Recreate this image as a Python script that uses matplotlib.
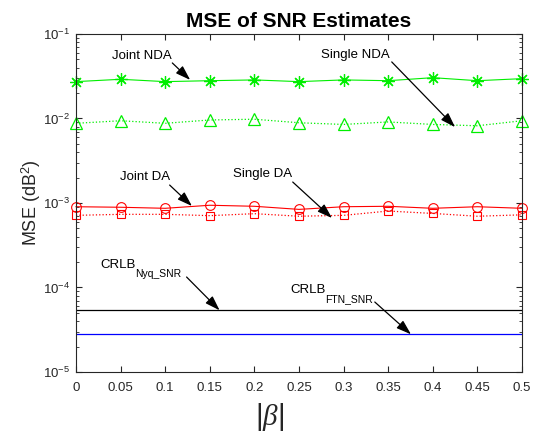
import numpy as np
import matplotlib
matplotlib.use('Agg')
import matplotlib.pyplot as plt

plt.rcParams['font.family'] = ['Liberation Sans', 'DejaVu Sans']
plt.rcParams['mathtext.fontset'] = 'custom'
plt.rcParams['mathtext.rm'] = 'Liberation Sans'
plt.rcParams['mathtext.sf'] = 'Liberation Sans'
plt.rcParams['mathtext.it'] = 'Liberation Serif:italic'

# |beta| values
beta = [0, 0.05, 0.1, 0.15, 0.2, 0.25, 0.3, 0.35, 0.4, 0.45, 0.5]

# MSE values
joint_nda = [0.0273, 0.0291, 0.0273, 0.0280, 0.0286, 0.0273, 0.0286, 0.0280, 0.0304, 0.0280, 0.0296]
single_nda = [0.00877, 0.0094, 0.00877, 0.0096, 0.0098, 0.0089, 0.0085, 0.0091, 0.0085, 0.0082, 0.0094]
joint_da = [0.000903, 0.00089, 0.000865, 0.00094, 0.000914, 0.00084, 0.000903, 0.000914, 0.000865, 0.000903, 0.000865]
single_da = [0.000714, 0.000734, 0.000734, 0.000708, 0.000747, 0.000697, 0.000714, 0.000803, 0.000752, 0.000697, 0.000724]
crlb_nyq = 5.37e-5
crlb_ftn = 2.79e-5

fig = plt.figure(figsize=(5.37, 4.34), dpi=100)
ax = fig.add_axes([0.1415, 0.1429, 0.8305, 0.7788])

green = '#00ee00'
asterisk = (8, 2, 0)
ax.semilogy(beta, joint_nda, '-', marker=asterisk, color=green, lw=0.8, ms=9, mew=0.9, clip_on=False)
ax.semilogy(beta, single_nda, ':^', color=green, lw=0.9, ms=8, mfc='none', mew=0.9, clip_on=False)
ax.semilogy(beta, joint_da, '-o', color='red', lw=0.8, ms=7, mfc='none', mew=0.8, clip_on=False)
ax.semilogy(beta, single_da, ':s', color='red', lw=0.9, ms=6, mfc='none', mew=0.8, clip_on=False)
ax.semilogy(beta, [crlb_nyq] * len(beta), '-', color='black', lw=0.9)
ax.semilogy(beta, [crlb_ftn] * len(beta), '-', color='blue', lw=0.9)

ax.set_xlim(0, 0.5)
ax.set_ylim(1e-5, 1e-1)
ax.set_xticks(beta)
ax.set_xticklabels(['0', '0.05', '0.1', '0.15', '0.2', '0.25', '0.3', '0.35', '0.4', '0.45', '0.5'])
ax.tick_params(which='both', direction='in', top=True, right=True, labelsize=9.5, colors='#262626')
ax.tick_params(axis='x', pad=7)
ax.tick_params(axis='y', pad=4)
ax.tick_params(which='major', length=4)
ax.tick_params(which='minor', length=2)
for s in ax.spines.values():
    s.set_color('#262626')
    s.set_linewidth(0.8)

ax.set_title('MSE of SNR Estimates', fontsize=15, fontweight='bold', pad=5)
ax.set_ylabel('MSE (dB$^2$)', fontsize=13, color='#262626', labelpad=0)
ax.set_xlabel(r'$|\beta|$', fontsize=21, color='#262626', labelpad=2)
ax.xaxis.set_label_coords(0.435, -0.085)

# labels and arrows
arrow = dict(arrowstyle='-|>,head_length=0.9,head_width=0.3', color='black', lw=0.9, shrinkA=0, shrinkB=0)
ax.text(0.074, 0.055, 'Joint NDA', fontsize=9.5, ha='center', va='center')
ax.annotate('', xy=(0.128, 0.0286), xytext=(0.108, 0.0454), arrowprops=arrow)
ax.text(0.3128, 0.0564, 'Single NDA', fontsize=9.5, ha='center', va='center')
ax.annotate('', xy=(0.425, 0.0079), xytext=(0.354, 0.0467), arrowprops=arrow)
ax.text(0.0774, 0.00203, 'Joint DA', fontsize=9.5, ha='center', va='center')
ax.annotate('', xy=(0.130, 0.00092), xytext=(0.105, 0.00163), arrowprops=arrow)
ax.text(0.2096, 0.0022, 'Single DA', fontsize=9.5, ha='center', va='center')
ax.annotate('', xy=(0.287, 0.000664), xytext=(0.243, 0.00177), arrowprops=arrow)

# CRLB labels with MATLAB-like subscripts
for x0, y0, sub in [(0.0269, 1.686e-4, 'Nyq_SNR'), (0.2399, 8.53e-5, 'FTN_SNR')]:
    ax.text(x0, y0, 'CRLB', fontsize=9.5, ha='left', va='baseline')
    ax.annotate(sub, xy=(x0, y0), xytext=(25.5, -6), textcoords='offset points',
                fontsize=7.5, ha='left', va='baseline')
ax.annotate('', xy=(0.161, crlb_nyq), xytext=(0.124, 1.33e-4), arrowprops=arrow)
ax.annotate('', xy=(0.3756, crlb_ftn), xytext=(0.335, 6.73e-5), arrowprops=arrow)

fig.savefig('out.png', dpi=100)
